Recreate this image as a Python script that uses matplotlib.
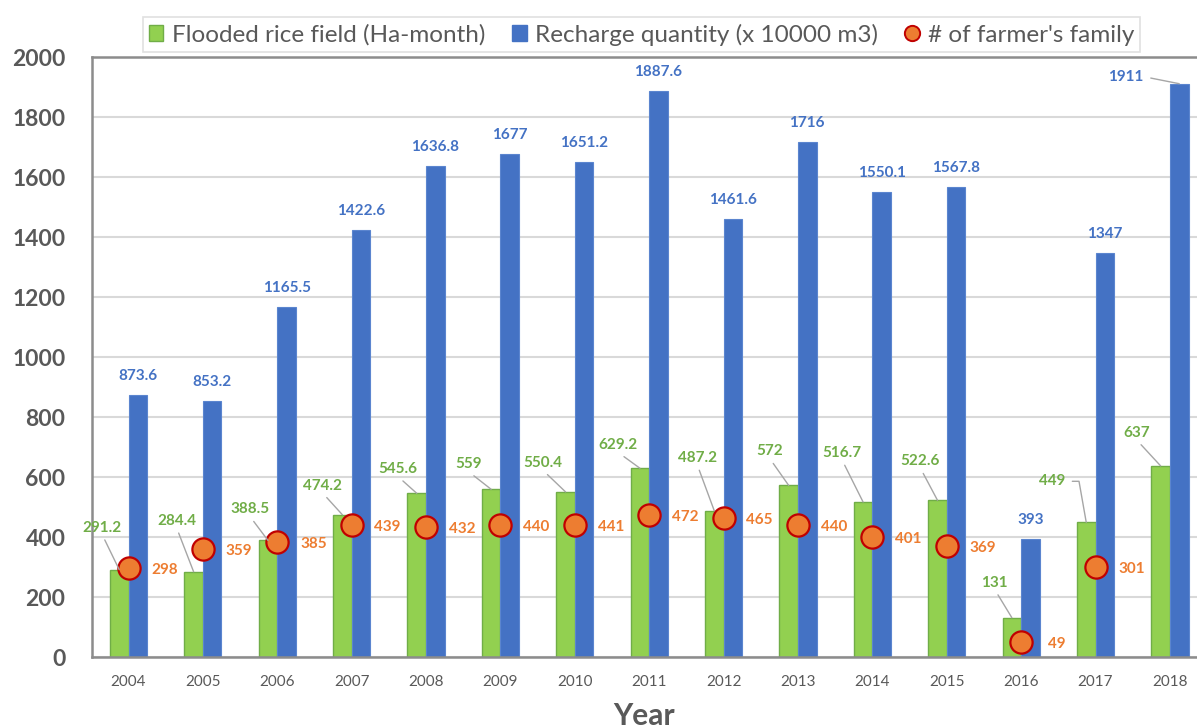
import matplotlib
matplotlib.use("Agg")
import matplotlib.pyplot as plt
from matplotlib.patches import Patch
from matplotlib.lines import Line2D
import numpy as np

# ---------------- data ----------------
years = ["2004", "2005", "2006", "2007", "2008", "2009", "2010", "2011",
         "2012", "2013", "2014", "2015", "2016", "2017", "2018"]
flooded = [291.2, 284.4, 388.5, 474.2, 545.6, 559, 550.4, 629.2,
           487.2, 572, 516.7, 522.6, 131, 449, 637]
recharge = [873.6, 853.2, 1165.5, 1422.6, 1636.8, 1677, 1651.2, 1887.6,
            1461.6, 1716, 1550.1, 1567.8, 393, 1347, 1911]
families = [298, 359, 385, 439, 432, 440, 441, 472,
            465, 440, 401, 369, 49, 301, None]
yticks = [0, 200, 400, 600, 800, 1000, 1200, 1400, 1600, 1800, 2000]

# ---------------- layout (label offsets in pixels) ----------------
green_off = [(-17, 42), (-17, 51), (-18, 31), (-20, 29), (-19, 24), (-23, 25),
             (-23, 29), (-22, 23), (-17, 53), (-19, 34), (-21, 49), (-17, 39),
             (-17, 35), (-34, 41), (-24, 33)]

GREEN = "#92D050"
GREEN_EDGE = "#70AD47"
GREEN_TXT = "#70AD47"
BLUE = "#4472C4"
ORANGE = "#ED7D31"
RED = "#C00000"
GRAY_TXT = "#595959"
GRID = "#D9D9D9"
SPINE = "#8C8C8C"
LEADER = "#A6A6A6"
LBL = 11

plt.rcParams['font.family'] = ['Lato', 'DejaVu Sans']

fig = plt.figure(figsize=(11.97, 7.28), dpi=100)
ax = fig.add_axes([92 / 1197, 71 / 728, 1105 / 1197, 600 / 728])

x = np.arange(len(years))
w = 0.25
ax.bar(x - w / 2, flooded, width=w, color=GREEN, edgecolor=GREEN_EDGE, linewidth=1, zorder=2)
ax.bar(x + w / 2, recharge, width=w, color=BLUE, edgecolor="#5B85CF", linewidth=0.8, zorder=2)

fx = [xi for xi, v in zip(x, families) if v is not None]
fv = [v for v in families if v is not None]
ax.plot(fx, fv, linestyle='none', marker='o', markersize=16,
        markerfacecolor=ORANGE, markeredgecolor=RED, markeredgewidth=1.6, zorder=4)

ax.set_xlim(-0.4907, 14.364)
ax.set_ylim(0, 2000)
ax.set_yticks(yticks)
ax.set_yticklabels([str(t) for t in yticks], fontsize=16.5, fontweight='bold', color=GRAY_TXT)
ax.set_xticks(x)
ax.set_xticklabels(years, fontsize=11, color=GRAY_TXT)
ax.tick_params(axis='y', length=0, pad=19)
ax.tick_params(axis='x', length=0, pad=13)
ax.yaxis.grid(True, color=GRID, linewidth=1.5, zorder=0)
ax.set_axisbelow(True)
for s in ['left', 'bottom', 'top']:
    ax.spines[s].set_color(SPINE)
    ax.spines[s].set_linewidth(1.8)
ax.spines['right'].set_visible(False)

ax.set_xlabel("Year", fontsize=21.5, fontweight='bold', color=GRAY_TXT, labelpad=9)

# green labels with leader lines
for i, v in enumerate(flooded):
    dx, dy = green_off[i]
    if i == 13:
        ax.annotate(f"{v:g}", xy=(x[i] - w / 2, v), xytext=(dx, dy), textcoords='offset pixels',
                    ha='center', va='center', fontsize=LBL, fontweight='bold', color=GREEN_TXT,
                    arrowprops=dict(arrowstyle='-', color=LEADER, lw=1, relpos=(1, 0.5),
                                    shrinkA=3, shrinkB=0,
                                    connectionstyle="angle,angleA=0,angleB=100,rad=0"),
                    zorder=5)
    else:
        ax.annotate(f"{v:g}", xy=(x[i] - w / 2, v), xytext=(dx, dy), textcoords='offset pixels',
                    ha='center', va='center', fontsize=LBL, fontweight='bold', color=GREEN_TXT,
                    arrowprops=dict(arrowstyle='-', color=LEADER, lw=1, relpos=(0.5, 0),
                                    shrinkA=2, shrinkB=0),
                    zorder=5)

# blue labels
for i, v in enumerate(recharge):
    if i == len(recharge) - 1:
        ax.annotate(f"{v:g}", xy=(x[i] + w / 2, v), xytext=(-53, 7), textcoords='offset pixels',
                    ha='center', va='center', fontsize=LBL, fontweight='bold', color=BLUE,
                    arrowprops=dict(arrowstyle='-', color=LEADER, lw=1, relpos=(1, 0.5),
                                    shrinkA=3, shrinkB=0), zorder=5)
    else:
        ax.annotate(f"{v:g}", xy=(x[i] + w / 2, v), xytext=(0, 19), textcoords='offset pixels',
                    ha='center', va='center', fontsize=LBL, fontweight='bold', color=BLUE, zorder=5)

# orange labels
for xi, v in zip(fx, fv):
    ax.annotate(f"{v:g}", xy=(xi, v), xytext=(36, -2), textcoords='offset pixels',
                ha='center', va='center', fontsize=LBL, fontweight='bold', color=ORANGE, zorder=5)

handles = [Patch(facecolor=GREEN, edgecolor=GREEN_EDGE, label="Flooded rice field (Ha-month)"),
           Patch(facecolor=BLUE, edgecolor=BLUE, label="Recharge quantity (x 10000 m3)"),
           Line2D([], [], linestyle='none', marker='o', markersize=11, markerfacecolor=ORANGE,
                  markeredgecolor=RED, markeredgewidth=1.4, label="# of farmer's family")]
leg = fig.legend(handles=handles, loc='center', bbox_to_anchor=(641.5 / 1197, 1 - 34.5 / 728),
                 ncol=3, frameon=True, fancybox=False, fontsize=17.5, handlelength=0.6,
                 handleheight=0.6, handletextpad=0.35, columnspacing=1.1, borderpad=0.25,
                 labelcolor=GRAY_TXT)
leg.get_frame().set_edgecolor(GRID)
leg.get_frame().set_linewidth(1.2)

fig.savefig("out.png", dpi=100)
